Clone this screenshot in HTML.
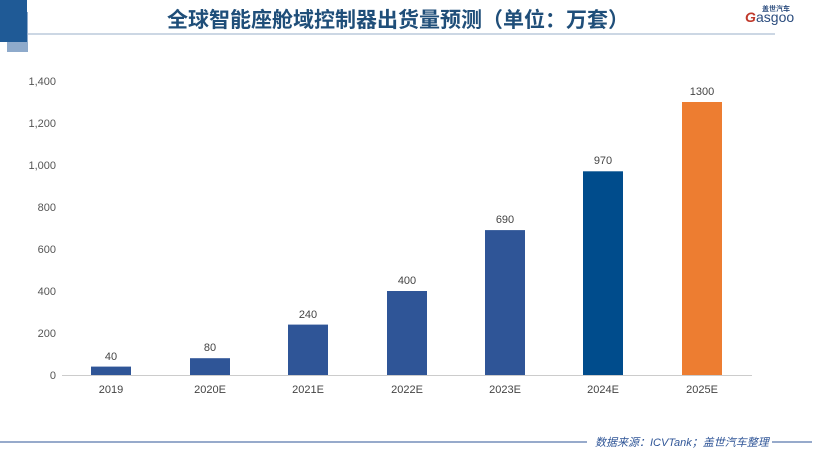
<!DOCTYPE html>
<html><head><meta charset="utf-8"><style>
body{margin:0;width:820px;height:452px;background:#fff;overflow:hidden;font-family:"Liberation Sans","Noto Sans CJK SC",sans-serif;}
</style></head><body>
<svg width="820" height="452" xmlns="http://www.w3.org/2000/svg" font-family="Liberation Sans, Noto Sans CJK SC, sans-serif">
<rect x="7" y="12" width="21" height="40" fill="#8EAACB"/>
<rect x="0" y="0" width="27" height="42" fill="#1F5A96"/>
<line x1="27" y1="34" x2="775" y2="34" stroke="#9AAFC8" stroke-width="1"/>
<text x="398" y="27" text-anchor="middle" font-size="21" font-weight="bold" fill="#1F4E79">全球智能座舱域控制器出货量预测（单位：万套）</text>
<text x="745" y="22" font-size="14" font-style="italic" fill="#C0392B" font-weight="bold">G</text>
<text x="756" y="22" font-size="14" fill="#2B4C7E">asgoo</text>
<text x="762" y="11" font-size="7" fill="#2B4C7E" font-weight="bold">盖世汽车</text>
<g font-size="11" fill="#555" text-anchor="end">
<text x="56" y="379">0</text><text x="56" y="337">200</text><text x="56" y="295">400</text><text x="56" y="253">600</text><text x="56" y="211">800</text><text x="56" y="169">1,000</text><text x="56" y="127">1,200</text><text x="56" y="85">1,400</text>
</g>
<line x1="62" y1="375.5" x2="752" y2="375.5" stroke="#ccc"/>
<g>
<rect x="91" y="366.6" width="40" height="8.4" fill="#2F5597"/>
<rect x="190" y="358.2" width="40" height="16.8" fill="#2F5597"/>
<rect x="288" y="324.6" width="40" height="50.4" fill="#2F5597"/>
<rect x="387" y="291" width="40" height="84" fill="#2F5597"/>
<rect x="485" y="230.1" width="40" height="144.9" fill="#2F5597"/>
<rect x="583" y="171.3" width="40" height="203.7" fill="#004C8C"/>
<rect x="682" y="102" width="40" height="273" fill="#ED7D31"/>
</g>
<g font-size="11" fill="#444" text-anchor="middle">
<text x="111" y="360">40</text><text x="210" y="351">80</text><text x="308" y="318">240</text><text x="407" y="284">400</text><text x="505" y="223">690</text><text x="603" y="164">970</text><text x="702" y="95">1300</text>
<text x="111" y="393">2019</text><text x="210" y="393">2020E</text><text x="308" y="393">2021E</text><text x="407" y="393">2022E</text><text x="505" y="393">2023E</text><text x="603" y="393">2024E</text><text x="702" y="393">2025E</text>
</g>
<line x1="0" y1="442" x2="587" y2="442" stroke="#2F5597" stroke-width="1"/>
<text x="595" y="446" font-size="11" font-style="italic" fill="#2F5597">数据来源：ICVTank；盖世汽车整理</text>
<line x1="772" y1="442" x2="812" y2="442" stroke="#2F5597" stroke-width="1"/>
</svg>
</body></html>
